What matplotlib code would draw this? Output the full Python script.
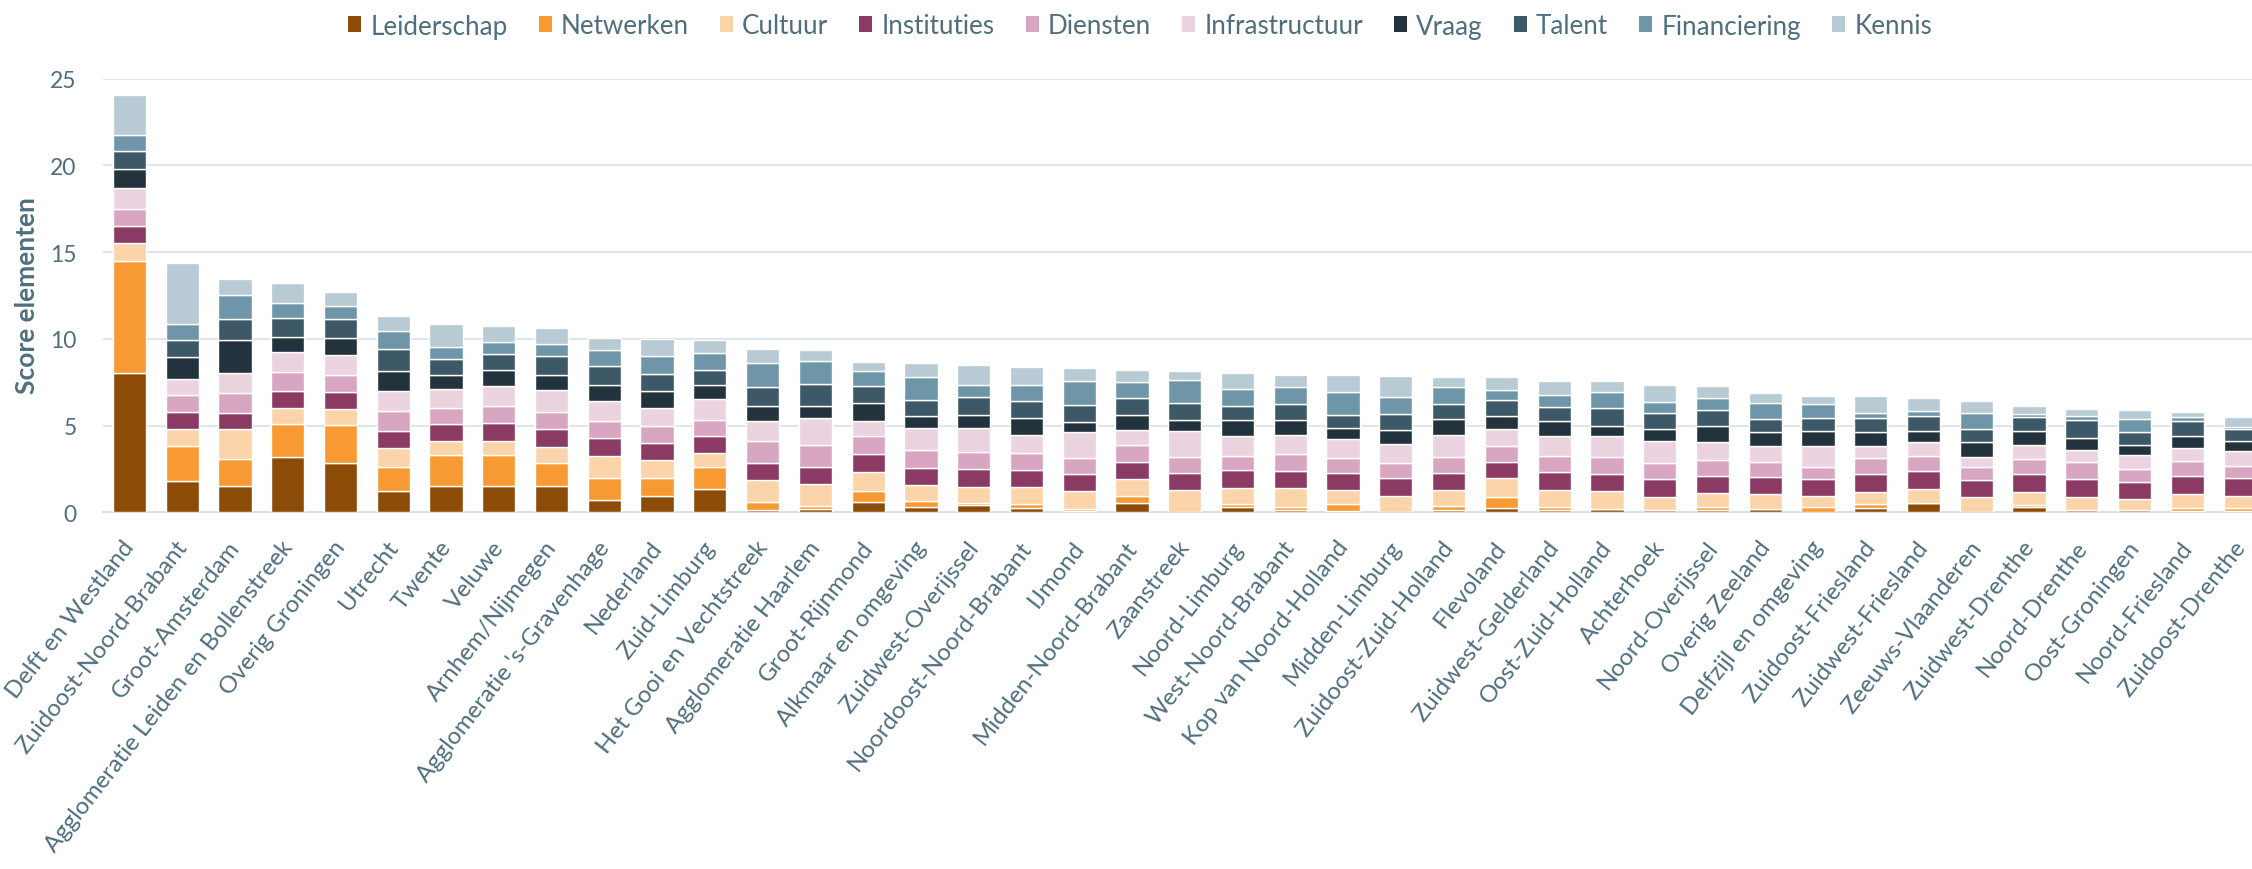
import matplotlib
matplotlib.use("Agg")
import matplotlib.pyplot as plt
from matplotlib.patches import Patch
from matplotlib.transforms import ScaledTranslation
import numpy as np

plt.rcParams['font.family'] = ['Lato', 'DejaVu Sans']

regions = ["Delft en Westland", "Zuidoost-Noord-Brabant", "Groot-Amsterdam",
           "Agglomeratie Leiden en Bollenstreek", "Overig Groningen", "Utrecht", "Twente",
           "Veluwe", "Arnhem/Nijmegen", "Agglomeratie 's-Gravenhage", "Nederland",
           "Zuid-Limburg", "Het Gooi en Vechtstreek", "Agglomeratie Haarlem", "Groot-Rijnmond",
           "Alkmaar en omgeving", "Zuidwest-Overijssel", "Noordoost-Noord-Brabant", "IJmond",
           "Midden-Noord-Brabant", "Zaanstreek", "Noord-Limburg", "West-Noord-Brabant",
           "Kop van Noord-Holland", "Midden-Limburg", "Zuidoost-Zuid-Holland", "Flevoland",
           "Zuidwest-Gelderland", "Oost-Zuid-Holland", "Achterhoek", "Noord-Overijssel",
           "Overig Zeeland", "Delfzijl en omgeving", "Zuidoost-Friesland", "Zuidwest-Friesland",
           "Zeeuws-Vlaanderen", "Zuidwest-Drenthe", "Noord-Drenthe", "Oost-Groningen",
           "Noord-Friesland", "Zuidoost-Drenthe"]

series_names = ["Leiderschap", "Netwerken", "Cultuur", "Instituties", "Diensten",
                "Infrastructuur", "Vraag", "Talent", "Financiering", "Kennis"]

leiderschap = [8.0, 1.82, 1.5, 3.21, 2.82, 1.25, 1.54, 1.52, 1.52, 0.71, 0.96, 1.34, 0.15, 0.2, 0.58,
               0.29, 0.42, 0.23, 0.05, 0.54, 0.0, 0.33, 0.15, 0.1, 0.0, 0.13, 0.23, 0.13, 0.19, 0.13,
               0.13, 0.19, 0.0, 0.23, 0.52, 0.0, 0.3, 0.15, 0.13, 0.1, 0.1]
netwerken = [6.5, 2.0, 1.57, 1.86, 2.21, 1.38, 1.76, 1.78, 1.32, 1.27, 1.04, 1.27, 0.45, 0.15, 0.65,
             0.34, 0.12, 0.23, 0.16, 0.42, 0.0, 0.15, 0.16, 0.38, 0.0, 0.22, 0.63, 0.2, 0.0, 0.0,
             0.16, 0.0, 0.3, 0.23, 0.0, 0.0, 0.13, 0.0, 0.0, 0.15, 0.13]
cultuur = [1.0, 0.96, 1.71, 0.92, 0.92, 1.07, 0.79, 0.83, 0.9, 1.28, 1.01, 0.79, 1.26, 1.26, 1.11,
           0.96, 0.9, 0.98, 0.99, 0.94, 1.29, 0.9, 1.07, 0.83, 0.96, 0.94, 1.1, 0.98, 1.04, 0.77,
           0.82, 0.87, 0.66, 0.73, 0.82, 0.9, 0.72, 0.71, 0.64, 0.81, 0.69]
instituties = [1.0, 0.98, 0.96, 0.98, 0.98, 0.96, 1.02, 1.03, 1.06, 1.0, 0.96, 0.98, 0.98, 0.98, 1.02,
               0.96, 1.06, 1.02, 0.98, 0.98, 0.96, 1.06, 1.0, 0.96, 1.0, 0.97, 0.92, 0.99, 0.98, 1.02,
               1.0, 0.99, 0.96, 1.02, 1.02, 0.98, 1.06, 1.06, 0.96, 1.05, 1.04]
diensten = [1.0, 1.0, 1.13, 1.09, 0.98, 1.16, 0.88, 0.98, 1.0, 0.98, 1.02, 0.92, 1.27, 1.29, 1.02,
            1.04, 0.96, 0.96, 0.94, 1.0, 0.92, 0.82, 0.98, 0.84, 0.86, 0.93, 0.96, 0.96, 0.98, 0.9,
            0.9, 0.83, 0.67, 0.9, 0.86, 0.71, 0.86, 0.96, 0.77, 0.83, 0.73]
infrastructuur = [1.2, 0.92, 1.13, 1.19, 1.17, 1.15, 1.11, 1.15, 1.26, 1.15, 1.0, 1.23, 1.15, 1.55, 0.88,
                  1.25, 1.39, 1.03, 1.48, 0.88, 1.53, 1.15, 1.09, 1.11, 1.11, 1.26, 0.96, 1.15, 1.19, 1.27,
                  1.06, 0.92, 1.25, 0.73, 0.85, 0.58, 0.81, 0.71, 0.8, 0.75, 0.86]
vraag = [1.1, 1.26, 1.92, 0.83, 0.98, 1.19, 0.83, 0.91, 0.87, 0.94, 1.0, 0.8, 0.86, 0.71, 1.04,
         0.73, 0.78, 0.96, 0.63, 0.84, 0.64, 0.93, 0.89, 0.63, 0.81, 0.92, 0.73, 0.83, 0.61, 0.71,
         0.92, 0.84, 0.86, 0.8, 0.63, 0.9, 0.8, 0.69, 0.6, 0.72, 0.58]
talent = [1.05, 0.98, 1.21, 1.09, 1.07, 1.24, 0.9, 0.92, 1.09, 1.12, 0.98, 0.87, 1.12, 1.23, 0.96,
          0.9, 1.0, 1.02, 0.98, 0.96, 0.94, 0.76, 0.9, 0.77, 0.92, 0.87, 0.94, 0.83, 1.02, 0.9,
          0.9, 0.73, 0.71, 0.79, 0.87, 0.73, 0.83, 1.06, 0.74, 0.83, 0.67]
financiering = [0.9, 0.96, 1.4, 0.9, 0.77, 1.02, 0.67, 0.67, 0.67, 0.92, 1.01, 0.97, 1.36, 1.34, 0.88,
                1.34, 0.71, 0.9, 1.34, 0.96, 1.34, 1.0, 0.96, 1.34, 1.0, 0.96, 0.57, 0.71, 0.9, 0.67,
                0.67, 0.93, 0.83, 0.27, 0.25, 0.92, 0.13, 0.19, 0.73, 0.27, 0.13]
kennis = [2.3, 3.46, 0.91, 1.17, 0.77, 0.92, 1.38, 0.96, 0.96, 0.65, 0.98, 0.77, 0.8, 0.66, 0.54,
          0.77, 1.15, 1.06, 0.79, 0.68, 0.54, 0.92, 0.73, 0.96, 1.21, 0.61, 0.73, 0.8, 0.63, 0.98,
          0.7, 0.57, 0.48, 1.02, 0.76, 0.67, 0.5, 0.42, 0.54, 0.29, 0.54]

series_values = [leiderschap, netwerken, cultuur, instituties, diensten,
                 infrastructuur, vraag, talent, financiering, kennis]
colors = ["#8c4b06", "#f79a33", "#fcd4a9", "#8a3a63", "#d9a6c1",
          "#ebd3df", "#22333d", "#3d5866", "#6e95a8", "#b8cad4"]

text_color = "#4f6e7e"

W, H = 2252, 870
fig = plt.figure(figsize=(W / 100, H / 100), dpi=100)
left_px, right_px = 103, 103 + 41 * 52.77
bottom_px, top_px = 513.3, 79.5
ax = fig.add_axes([left_px / W, 1 - bottom_px / H, (right_px - left_px) / W, (bottom_px - top_px) / H])

x = np.arange(len(regions))
bottom = np.zeros(len(regions))
for name, vals, col in zip(series_names, series_values, colors):
    v = np.array(vals)
    ax.bar(x, v, width=0.63, bottom=bottom, color=col, edgecolor="white",
           linewidth=1.0, zorder=3, label=name)
    bottom += v

ax.set_xlim(-0.5, len(regions) - 0.5)
ax.set_ylim(0, 25)
ax.set_yticks([0, 5, 10, 15, 20, 25])
ax.yaxis.grid(True, color="#d7e1e8", linewidth=1.2, zorder=0)
ax.set_axisbelow(True)
for s in ["top", "right", "left"]:
    ax.spines[s].set_visible(False)
ax.spines["bottom"].set_color("#d7e1e8")
ax.spines["bottom"].set_linewidth(1.5)
ax.spines["bottom"].set_zorder(1)

ax.tick_params(axis="y", length=0, pad=19, labelsize=16.5, labelcolor=text_color)
ax.tick_params(axis="x", length=0, pad=25, labelsize=17.3, labelcolor=text_color)
ax.set_xticks(x)
ax.set_xticklabels(regions, rotation=52, ha="right", va="baseline", rotation_mode="anchor")
off = ScaledTranslation(6 / 100, 0, fig.dpi_scale_trans)
for lbl in ax.get_xticklabels():
    lbl.set_transform(lbl.get_transform() + off)

fig.text(27 / W, 1 - 296 / H, "Score elementen", rotation=90, ha="center", va="center",
         fontsize=19, fontweight="bold", color=text_color)

handles = [Patch(facecolor=c, edgecolor="none", label=n) for n, c in zip(series_names, colors)]
fig.legend(handles=handles, loc="center", bbox_to_anchor=(1140 / W, 1 - 27 / H), ncol=10,
           frameon=False, fontsize=18.7, labelcolor=text_color, handlelength=0.5,
           handleheight=0.55, handletextpad=0.35, columnspacing=1.2, borderpad=0)

fig.savefig("out.png", dpi=100)
